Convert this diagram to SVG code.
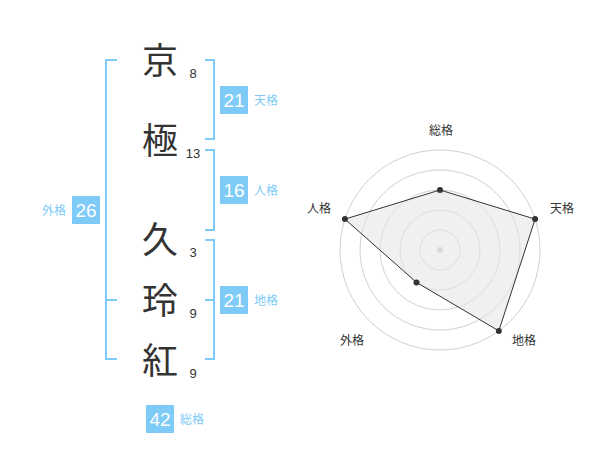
<svg xmlns="http://www.w3.org/2000/svg" width="600" height="470" viewBox="0 0 600 470">
<style>
.ch{font-family:"Noto Sans CJK JP","Noto Sans CJK SC",sans-serif;font-size:36px;font-weight:400;fill:#333;text-anchor:middle}
.num{font-family:"Liberation Sans",Arial,sans-serif;font-size:13px;fill:#333;text-anchor:middle}
.br{fill:none;stroke:#7ecbf8;stroke-width:2}
.box{fill:#7ecbf8}
.bt{font-family:"Liberation Sans",Arial,sans-serif;font-size:19px;fill:#fff;text-anchor:middle}
.lb{font-family:"Noto Sans CJK JP","Noto Sans CJK SC",sans-serif;font-size:12px;fill:#7ecbf8}
.rg{fill:none;stroke:#d0d0d0;stroke-width:1}
.rl{font-family:"Noto Sans CJK JP","Noto Sans CJK SC",sans-serif;font-size:12px;fill:#333;text-anchor:middle}
.pt{fill:#333}
</style>
<g id="characters">
<g id="c1"><text class="ch" x="160" y="74">京</text><text class="num" x="193" y="78">8</text></g>
<g id="c2"><text class="ch" x="160" y="154">極</text><text class="num" x="193" y="158">13</text></g>
<g id="c3"><text class="ch" x="160" y="253">久</text><text class="num" x="193" y="257">3</text></g>
<g id="c4"><text class="ch" x="160" y="314">玲</text><text class="num" x="193" y="318">9</text></g>
<g id="c5"><text class="ch" x="160" y="374">紅</text><text class="num" x="193" y="378">9</text></g>
</g>
<g id="connectors">
<path class="br" d="M117,60 H106 V359 H117 M106,300 H117"/>
<path class="br" d="M205,60 H214 V139 H205"/>
<path class="br" d="M205,150 H214 V230 H205"/>
<path class="br" d="M205,240 H214 V359 H205 M205,300 H214"/>
</g>
<g id="tenkaku"><rect class="box" x="220" y="86" width="28" height="28"/><text class="bt" x="234" y="107">21</text><text class="lb" x="254" y="105">天格</text></g>
<g id="jinkaku"><rect class="box" x="220" y="176" width="28" height="28"/><text class="bt" x="234" y="197">16</text><text class="lb" x="254" y="195">人格</text></g>
<g id="chikaku"><rect class="box" x="220" y="286" width="28" height="28"/><text class="bt" x="234" y="307">21</text><text class="lb" x="254" y="305">地格</text></g>
<g id="gaikaku"><rect class="box" x="72" y="196" width="28" height="28"/><text class="bt" x="86" y="217">26</text><text class="lb" x="42" y="215">外格</text></g>
<g id="soukaku"><rect class="box" x="146" y="405" width="28" height="28"/><text class="bt" x="160" y="426">42</text><text class="lb" x="180" y="424">総格</text></g>
<g id="radar">
<circle class="rg" cx="440" cy="250" r="20"/>
<circle class="rg" cx="440" cy="250" r="40"/>
<circle class="rg" cx="440" cy="250" r="60"/>
<circle class="rg" cx="440" cy="250" r="80"/>
<circle class="rg" cx="440" cy="250" r="100"/>
<circle cx="440" cy="250" r="3" fill="#c8c8c8"/>
<polygon points="440,190 535.1,219.1 498.8,330.9 416.5,282.4 344.9,219.1" fill="#e6e6e6" fill-opacity="0.6" stroke="#333" stroke-width="1"/>
<circle class="pt" cx="440" cy="190" r="3"/>
<circle class="pt" cx="535.1" cy="219.1" r="3"/>
<circle class="pt" cx="498.8" cy="330.9" r="3"/>
<circle class="pt" cx="416.5" cy="282.4" r="3"/>
<circle class="pt" cx="344.9" cy="219.1" r="3"/>
<text class="rl" x="441" y="135">総格</text>
<text class="rl" x="562" y="213">天格</text>
<text class="rl" x="319" y="213">人格</text>
<text class="rl" x="352" y="345">外格</text>
<text class="rl" x="524" y="345">地格</text>
</g>
</svg>
